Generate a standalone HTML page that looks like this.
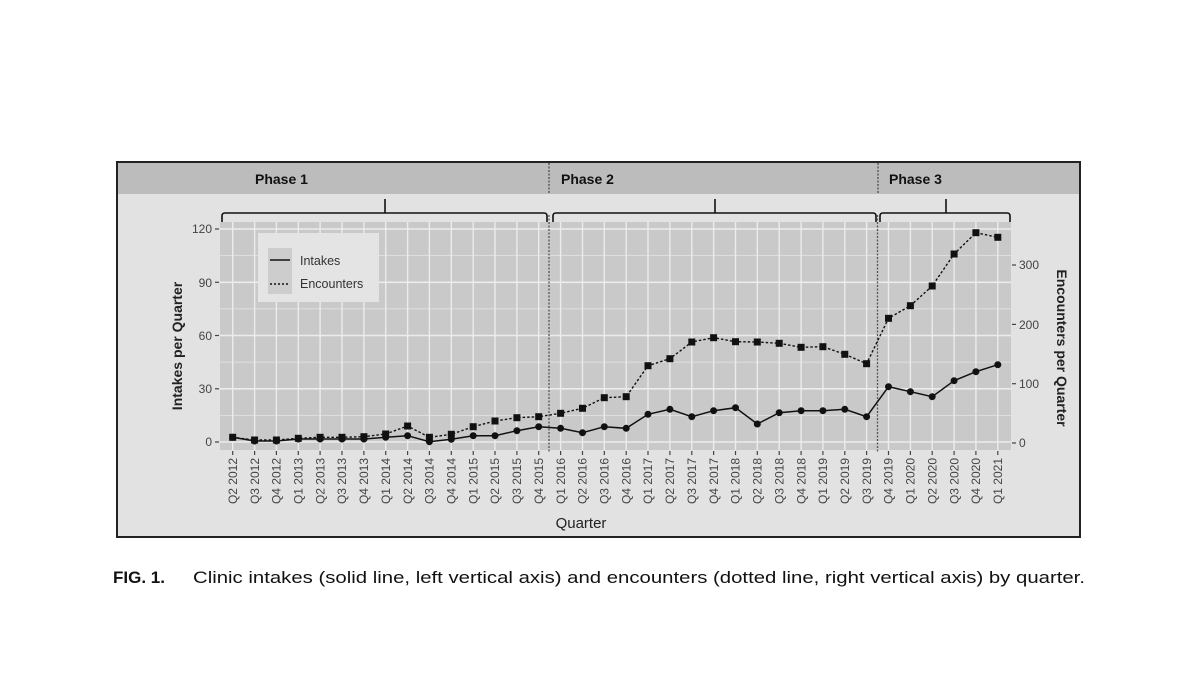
<!DOCTYPE html>
<html><head><meta charset="utf-8"><style>
html,body{margin:0;padding:0;background:#fff;}
svg{display:block;}
text{font-family:"Liberation Sans",sans-serif;}
</style></head><body>
<svg width="1200" height="696" viewBox="0 0 1200 696" xmlns="http://www.w3.org/2000/svg">
<rect x="0" y="0" width="1200" height="696" fill="#fff"/>
<!-- outer panel -->
<rect x="117" y="162" width="963" height="375" fill="#e2e2e2" stroke="#222" stroke-width="2"/>
<rect x="118" y="163" width="961" height="31" fill="#bcbcbc"/>
<line x1="549" y1="163" x2="549" y2="194" stroke="#444" stroke-width="1.2" stroke-dasharray="2,1.5"/>
<line x1="878" y1="163" x2="878" y2="194" stroke="#444" stroke-width="1.2" stroke-dasharray="2,1.5"/>
<text x="255" y="184" font-size="14" font-weight="bold" fill="#111">Phase 1</text>
<text x="561" y="184" font-size="14" font-weight="bold" fill="#111">Phase 2</text>
<text x="889" y="184" font-size="14" font-weight="bold" fill="#111">Phase 3</text>
<!-- plot area -->
<rect x="220" y="222" width="791" height="228" fill="#c9c9c9"/>
<g stroke="#e6e6e6" stroke-width="0.8">
<line x1="220" x2="1011" y1="415.4" y2="415.4"/><line x1="220" x2="1011" y1="362.1" y2="362.1"/><line x1="220" x2="1011" y1="308.9" y2="308.9"/><line x1="220" x2="1011" y1="255.6" y2="255.6"/>
</g>
<g stroke="#ececec" stroke-width="1.6">
<line x1="220" x2="1011" y1="442" y2="442"/><line x1="220" x2="1011" y1="388.8" y2="388.8"/><line x1="220" x2="1011" y1="335.5" y2="335.5"/><line x1="220" x2="1011" y1="282.3" y2="282.3"/><line x1="220" x2="1011" y1="229" y2="229"/>
</g>
<g stroke="#ececec" stroke-width="1.4">
<line x1="232.7" x2="232.7" y1="222" y2="450"/><line x1="254.6" x2="254.6" y1="222" y2="450"/><line x1="276.4" x2="276.4" y1="222" y2="450"/><line x1="298.3" x2="298.3" y1="222" y2="450"/><line x1="320.1" x2="320.1" y1="222" y2="450"/><line x1="342.0" x2="342.0" y1="222" y2="450"/><line x1="363.9" x2="363.9" y1="222" y2="450"/><line x1="385.7" x2="385.7" y1="222" y2="450"/><line x1="407.6" x2="407.6" y1="222" y2="450"/><line x1="429.4" x2="429.4" y1="222" y2="450"/><line x1="451.3" x2="451.3" y1="222" y2="450"/><line x1="473.2" x2="473.2" y1="222" y2="450"/><line x1="495.0" x2="495.0" y1="222" y2="450"/><line x1="516.9" x2="516.9" y1="222" y2="450"/><line x1="538.7" x2="538.7" y1="222" y2="450"/><line x1="560.6" x2="560.6" y1="222" y2="450"/><line x1="582.5" x2="582.5" y1="222" y2="450"/><line x1="604.3" x2="604.3" y1="222" y2="450"/><line x1="626.2" x2="626.2" y1="222" y2="450"/><line x1="648.0" x2="648.0" y1="222" y2="450"/><line x1="669.9" x2="669.9" y1="222" y2="450"/><line x1="691.8" x2="691.8" y1="222" y2="450"/><line x1="713.6" x2="713.6" y1="222" y2="450"/><line x1="735.5" x2="735.5" y1="222" y2="450"/><line x1="757.3" x2="757.3" y1="222" y2="450"/><line x1="779.2" x2="779.2" y1="222" y2="450"/><line x1="801.1" x2="801.1" y1="222" y2="450"/><line x1="822.9" x2="822.9" y1="222" y2="450"/><line x1="844.8" x2="844.8" y1="222" y2="450"/><line x1="866.6" x2="866.6" y1="222" y2="450"/><line x1="888.5" x2="888.5" y1="222" y2="450"/><line x1="910.4" x2="910.4" y1="222" y2="450"/><line x1="932.2" x2="932.2" y1="222" y2="450"/><line x1="954.1" x2="954.1" y1="222" y2="450"/><line x1="975.9" x2="975.9" y1="222" y2="450"/><line x1="997.8" x2="997.8" y1="222" y2="450"/>
</g>
<!-- phase dividers in plot -->
<line x1="549" y1="215" x2="549" y2="452" stroke="#555" stroke-width="1.3" stroke-dasharray="2,1.5"/>
<line x1="877.5" y1="215" x2="877.5" y2="452" stroke="#555" stroke-width="1.3" stroke-dasharray="2,1.5"/>
<!-- brackets -->
<g fill="none" stroke="#111" stroke-width="1.6">
<path d="M222,222 L222,216 Q222,213 225,213 L544,213 Q547,213 547,216 L547,222"/>
<line x1="385" y1="213" x2="385" y2="199"/>
<path d="M553,222 L553,216 Q553,213 556,213 L873,213 Q876,213 876,216 L876,222"/>
<line x1="715" y1="213" x2="715" y2="199"/>
<path d="M880,222 L880,216 Q880,213 883,213 L1007,213 Q1010,213 1010,216 L1010,222"/>
<line x1="946" y1="213" x2="946" y2="199"/>
</g>
<!-- left axis -->
<g stroke="#444" stroke-width="1.2">
<line x1="215" x2="219" y1="442" y2="442"/><line x1="215" x2="219" y1="388.8" y2="388.8"/><line x1="215" x2="219" y1="335.5" y2="335.5"/><line x1="215" x2="219" y1="282.3" y2="282.3"/><line x1="215" x2="219" y1="229" y2="229"/>
<line x1="1012" x2="1016" y1="443" y2="443"/><line x1="1012" x2="1016" y1="383.7" y2="383.7"/><line x1="1012" x2="1016" y1="324.4" y2="324.4"/><line x1="1012" x2="1016" y1="265" y2="265"/>
</g>
<g font-size="12" fill="#444" text-anchor="end">
<text x="212" y="446">0</text><text x="212" y="393">30</text><text x="212" y="340">60</text><text x="212" y="287">90</text><text x="212" y="233">120</text>
</g>
<g font-size="12" fill="#444">
<text x="1019" y="447">0</text><text x="1019" y="388">100</text><text x="1019" y="329">200</text><text x="1019" y="269">300</text>
</g>
<text transform="translate(182,346) rotate(-90)" font-size="14" font-weight="bold" fill="#222" text-anchor="middle">Intakes per Quarter</text>
<text transform="translate(1057,348) rotate(90)" font-size="14" font-weight="bold" fill="#222" text-anchor="middle">Encounters per Quarter</text>
<!-- x ticks -->
<g stroke="#444" stroke-width="1.2">
<line x1="232.7" x2="232.7" y1="451" y2="455"/><line x1="254.6" x2="254.6" y1="451" y2="455"/><line x1="276.4" x2="276.4" y1="451" y2="455"/><line x1="298.3" x2="298.3" y1="451" y2="455"/><line x1="320.1" x2="320.1" y1="451" y2="455"/><line x1="342.0" x2="342.0" y1="451" y2="455"/><line x1="363.9" x2="363.9" y1="451" y2="455"/><line x1="385.7" x2="385.7" y1="451" y2="455"/><line x1="407.6" x2="407.6" y1="451" y2="455"/><line x1="429.4" x2="429.4" y1="451" y2="455"/><line x1="451.3" x2="451.3" y1="451" y2="455"/><line x1="473.2" x2="473.2" y1="451" y2="455"/><line x1="495.0" x2="495.0" y1="451" y2="455"/><line x1="516.9" x2="516.9" y1="451" y2="455"/><line x1="538.7" x2="538.7" y1="451" y2="455"/><line x1="560.6" x2="560.6" y1="451" y2="455"/><line x1="582.5" x2="582.5" y1="451" y2="455"/><line x1="604.3" x2="604.3" y1="451" y2="455"/><line x1="626.2" x2="626.2" y1="451" y2="455"/><line x1="648.0" x2="648.0" y1="451" y2="455"/><line x1="669.9" x2="669.9" y1="451" y2="455"/><line x1="691.8" x2="691.8" y1="451" y2="455"/><line x1="713.6" x2="713.6" y1="451" y2="455"/><line x1="735.5" x2="735.5" y1="451" y2="455"/><line x1="757.3" x2="757.3" y1="451" y2="455"/><line x1="779.2" x2="779.2" y1="451" y2="455"/><line x1="801.1" x2="801.1" y1="451" y2="455"/><line x1="822.9" x2="822.9" y1="451" y2="455"/><line x1="844.8" x2="844.8" y1="451" y2="455"/><line x1="866.6" x2="866.6" y1="451" y2="455"/><line x1="888.5" x2="888.5" y1="451" y2="455"/><line x1="910.4" x2="910.4" y1="451" y2="455"/><line x1="932.2" x2="932.2" y1="451" y2="455"/><line x1="954.1" x2="954.1" y1="451" y2="455"/><line x1="975.9" x2="975.9" y1="451" y2="455"/><line x1="997.8" x2="997.8" y1="451" y2="455"/>
</g>
<g font-size="12" fill="#444" text-anchor="end">
<text transform="translate(237,458) rotate(-90)">Q2 2012</text>
<text transform="translate(259,458) rotate(-90)">Q3 2012</text>
<text transform="translate(280.6,458) rotate(-90)">Q4 2012</text>
<text transform="translate(302.5,458) rotate(-90)">Q1 2013</text>
<text transform="translate(324.3,458) rotate(-90)">Q2 2013</text>
<text transform="translate(346.2,458) rotate(-90)">Q3 2013</text>
<text transform="translate(368.1,458) rotate(-90)">Q4 2013</text>
<text transform="translate(389.9,458) rotate(-90)">Q1 2014</text>
<text transform="translate(411.8,458) rotate(-90)">Q2 2014</text>
<text transform="translate(433.6,458) rotate(-90)">Q3 2014</text>
<text transform="translate(455.5,458) rotate(-90)">Q4 2014</text>
<text transform="translate(477.4,458) rotate(-90)">Q1 2015</text>
<text transform="translate(499.2,458) rotate(-90)">Q2 2015</text>
<text transform="translate(521.1,458) rotate(-90)">Q3 2015</text>
<text transform="translate(542.9,458) rotate(-90)">Q4 2015</text>
<text transform="translate(564.8,458) rotate(-90)">Q1 2016</text>
<text transform="translate(586.7,458) rotate(-90)">Q2 2016</text>
<text transform="translate(608.5,458) rotate(-90)">Q3 2016</text>
<text transform="translate(630.4,458) rotate(-90)">Q4 2016</text>
<text transform="translate(652.2,458) rotate(-90)">Q1 2017</text>
<text transform="translate(674.1,458) rotate(-90)">Q2 2017</text>
<text transform="translate(696,458) rotate(-90)">Q3 2017</text>
<text transform="translate(717.8,458) rotate(-90)">Q4 2017</text>
<text transform="translate(739.7,458) rotate(-90)">Q1 2018</text>
<text transform="translate(761.5,458) rotate(-90)">Q2 2018</text>
<text transform="translate(783.4,458) rotate(-90)">Q3 2018</text>
<text transform="translate(805.3,458) rotate(-90)">Q4 2018</text>
<text transform="translate(827.1,458) rotate(-90)">Q1 2019</text>
<text transform="translate(849,458) rotate(-90)">Q2 2019</text>
<text transform="translate(870.8,458) rotate(-90)">Q3 2019</text>
<text transform="translate(892.7,458) rotate(-90)">Q4 2019</text>
<text transform="translate(914.6,458) rotate(-90)">Q1 2020</text>
<text transform="translate(936.4,458) rotate(-90)">Q2 2020</text>
<text transform="translate(958.3,458) rotate(-90)">Q3 2020</text>
<text transform="translate(980.1,458) rotate(-90)">Q4 2020</text>
<text transform="translate(1002,458) rotate(-90)">Q1 2021</text>
</g>
<text x="581" y="528" font-size="15" fill="#222" text-anchor="middle">Quarter</text>
<!-- legend -->
<rect x="258" y="233" width="121" height="69" fill="#e4e4e4"/>
<rect x="268" y="248" width="24" height="46" fill="#cdcdcd"/>
<line x1="270" x2="290" y1="260" y2="260" stroke="#111" stroke-width="1.5"/>
<line x1="270" x2="290" y1="284" y2="284" stroke="#111" stroke-width="1.5" stroke-dasharray="2,2"/>
<text x="300" y="265" font-size="12.5" fill="#333">Intakes</text>
<text x="300" y="288" font-size="12.5" fill="#333">Encounters</text>
<!-- encounters -->
<polyline fill="none" stroke="#111" stroke-width="1.4" stroke-dasharray="2.5,2" points="232.7,437.3 254.6,440 276.4,440 298.3,438.3 320.1,437.3 342.0,437.3 363.9,436.7 385.7,434 407.6,426 429.4,437.3 451.3,434.3 473.2,426.7 495.0,421 516.9,417.7 538.7,416.7 560.6,413.3 582.5,408.3 604.3,397.7 626.2,396.7 648.0,365.7 669.9,358.7 691.8,342 713.6,337.7 735.5,341.7 757.3,342 779.2,343.3 801.1,347.3 822.9,346.7 844.8,354.3 866.6,363.7 888.5,318.3 910.4,305.7 932.2,286 954.1,254 975.9,232.7 997.8,237.3"/>
<g fill="#111">
<rect x="229.2" y="433.8" width="7" height="7"/><rect x="251.1" y="436.5" width="7" height="7"/><rect x="272.9" y="436.5" width="7" height="7"/><rect x="294.8" y="434.8" width="7" height="7"/><rect x="316.6" y="433.8" width="7" height="7"/><rect x="338.5" y="433.8" width="7" height="7"/><rect x="360.4" y="433.2" width="7" height="7"/><rect x="382.2" y="430.5" width="7" height="7"/><rect x="404.1" y="422.5" width="7" height="7"/><rect x="425.9" y="433.8" width="7" height="7"/><rect x="447.8" y="430.8" width="7" height="7"/><rect x="469.7" y="423.2" width="7" height="7"/><rect x="491.5" y="417.5" width="7" height="7"/><rect x="513.4" y="414.2" width="7" height="7"/><rect x="535.2" y="413.2" width="7" height="7"/><rect x="557.1" y="409.8" width="7" height="7"/><rect x="579" y="404.8" width="7" height="7"/><rect x="600.8" y="394.2" width="7" height="7"/><rect x="622.7" y="393.2" width="7" height="7"/><rect x="644.5" y="362.2" width="7" height="7"/><rect x="666.4" y="355.2" width="7" height="7"/><rect x="688.3" y="338.5" width="7" height="7"/><rect x="710.1" y="334.2" width="7" height="7"/><rect x="732" y="338.2" width="7" height="7"/><rect x="753.8" y="338.5" width="7" height="7"/><rect x="775.7" y="339.8" width="7" height="7"/><rect x="797.6" y="343.8" width="7" height="7"/><rect x="819.4" y="343.2" width="7" height="7"/><rect x="841.3" y="350.8" width="7" height="7"/><rect x="863.1" y="360.2" width="7" height="7"/><rect x="885" y="314.8" width="7" height="7"/><rect x="906.9" y="302.2" width="7" height="7"/><rect x="928.7" y="282.5" width="7" height="7"/><rect x="950.6" y="250.5" width="7" height="7"/><rect x="972.4" y="229.2" width="7" height="7"/><rect x="994.3" y="233.8" width="7" height="7"/>
</g>
<!-- intakes -->
<polyline fill="none" stroke="#111" stroke-width="1.5" points="232.7,437.3 254.6,441 276.4,441 298.3,439 320.1,439 342.0,439 363.9,439 385.7,437.3 407.6,435.7 429.4,441.7 451.3,439.3 473.2,435.7 495.0,435.7 516.9,430.7 538.7,426.7 560.6,428.3 582.5,432.7 604.3,426.7 626.2,428.3 648.0,414.3 669.9,409.3 691.8,416.7 713.6,410.7 735.5,407.7 757.3,424 779.2,412.7 801.1,410.7 822.9,410.7 844.8,409.3 866.6,416.7 888.5,386.7 910.4,391.7 932.2,396.7 954.1,380.7 975.9,371.7 997.8,364.7"/>
<g fill="#111">
<circle cx="232.7" cy="437.3" r="3.5"/><circle cx="254.6" cy="441" r="3.5"/><circle cx="276.4" cy="441" r="3.5"/><circle cx="298.3" cy="439" r="3.5"/><circle cx="320.1" cy="439" r="3.5"/><circle cx="342.0" cy="439" r="3.5"/><circle cx="363.9" cy="439" r="3.5"/><circle cx="385.7" cy="437.3" r="3.5"/><circle cx="407.6" cy="435.7" r="3.5"/><circle cx="429.4" cy="441.7" r="3.5"/><circle cx="451.3" cy="439.3" r="3.5"/><circle cx="473.2" cy="435.7" r="3.5"/><circle cx="495.0" cy="435.7" r="3.5"/><circle cx="516.9" cy="430.7" r="3.5"/><circle cx="538.7" cy="426.7" r="3.5"/><circle cx="560.6" cy="428.3" r="3.5"/><circle cx="582.5" cy="432.7" r="3.5"/><circle cx="604.3" cy="426.7" r="3.5"/><circle cx="626.2" cy="428.3" r="3.5"/><circle cx="648.0" cy="414.3" r="3.5"/><circle cx="669.9" cy="409.3" r="3.5"/><circle cx="691.8" cy="416.7" r="3.5"/><circle cx="713.6" cy="410.7" r="3.5"/><circle cx="735.5" cy="407.7" r="3.5"/><circle cx="757.3" cy="424" r="3.5"/><circle cx="779.2" cy="412.7" r="3.5"/><circle cx="801.1" cy="410.7" r="3.5"/><circle cx="822.9" cy="410.7" r="3.5"/><circle cx="844.8" cy="409.3" r="3.5"/><circle cx="866.6" cy="416.7" r="3.5"/><circle cx="888.5" cy="386.7" r="3.5"/><circle cx="910.4" cy="391.7" r="3.5"/><circle cx="932.2" cy="396.7" r="3.5"/><circle cx="954.1" cy="380.7" r="3.5"/><circle cx="975.9" cy="371.7" r="3.5"/><circle cx="997.8" cy="364.7" r="3.5"/>
</g>
<!-- caption -->
<text x="113" y="583" font-size="17" font-weight="bold" fill="#111">FIG. 1.</text>
<text x="193" y="583" font-size="17" fill="#111" textLength="892" lengthAdjust="spacingAndGlyphs">Clinic intakes (solid line, left vertical axis) and encounters (dotted line, right vertical axis) by quarter.</text>
</svg>
</body></html>
